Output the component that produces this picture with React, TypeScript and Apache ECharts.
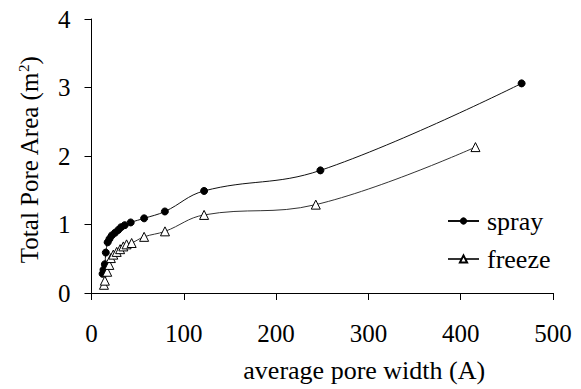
import React, { useEffect, useRef } from "react";
import * as echarts from "echarts";

const sprayX = [12, 13, 14.5, 15.5, 17.5, 19.5, 22, 25.5, 29, 32, 36, 42.5, 57, 79.5, 122, 248, 466];
const sprayY = [0.28, 0.34, 0.42, 0.59, 0.74, 0.79, 0.84, 0.88, 0.92, 0.96, 0.99, 1.03, 1.09, 1.19, 1.49, 1.79, 3.06];
const freezeX = [13.5, 14.5, 17, 19.3, 21, 23.6, 27.3, 31, 34.5, 38, 43.5, 57, 79.6, 122, 243, 416];
const freezeY = [0.12, 0.18, 0.31, 0.41, 0.51, 0.56, 0.6, 0.64, 0.68, 0.71, 0.73, 0.82, 0.9, 1.14, 1.29, 2.13];
const xTicks = [0, 100, 200, 300, 400, 500];
const yTicks = [0, 1, 2, 3, 4];

const FONT = "Liberation Serif";

export default function App() {
  const ref = useRef<HTMLDivElement>(null);
  useEffect(() => {
    if (!ref.current) return;
    const chart = echarts.init(ref.current, undefined, { renderer: "svg" });
    const spray = sprayX.map((x, i) => [x, sprayY[i]]);
    const freeze = freezeX.map((x, i) => [x, freezeY[i]]);
    chart.setOption({
      animation: false,
      backgroundColor: "#fff",
      textStyle: { fontFamily: FONT, color: "#000" },
      grid: { left: 91.5, right: 28, top: 19, bottom: 96, containLabel: false },
      legend: {
        orient: "vertical",
        left: 442,
        top: 203,
        itemWidth: 31,
        itemHeight: 9,
        itemGap: 12,
        textStyle: { fontFamily: FONT, fontSize: 26, color: "#000", padding: [0, 0, 0, 3] },
        data: ["spray", "freeze"],
      },
      xAxis: {
        type: "value",
        min: xTicks[0],
        max: xTicks[xTicks.length - 1],
        interval: 100,
        name: "average pore width (A)",
        nameLocation: "middle",
        nameGap: 64,
        nameTextStyle: { fontFamily: FONT, fontSize: 26, color: "#000", padding: [0, 0, 0, 84] },
        axisLine: { show: true, lineStyle: { color: "#000", width: 1 } },
        axisTick: { show: true, length: 7, lineStyle: { color: "#000" } },
        axisLabel: { fontFamily: FONT, fontSize: 25, color: "#000", margin: 28 },
        splitLine: { show: false },
      },
      yAxis: {
        type: "value",
        min: yTicks[0],
        max: yTicks[yTicks.length - 1],
        interval: 1,
        name: "Total Pore Area (m{sup|2})",
        nameLocation: "middle",
        nameGap: 50,
        nameRotate: 90,
        nameTextStyle: {
          fontFamily: FONT,
          fontSize: 25,
          color: "#000",
          padding: [0, 8, 0, 0],
          rich: { sup: { fontFamily: FONT, fontSize: 15, color: "#000", verticalAlign: "top", padding: [0, 0, 9, 0] } },
        },
        axisLine: { show: true, lineStyle: { color: "#000", width: 1 } },
        axisTick: { show: true, length: 7, lineStyle: { color: "#000" } },
        axisLabel: { fontFamily: FONT, fontSize: 25, color: "#000", margin: 21 },
        splitLine: { show: false },
      },
      series: [
        {
          name: "spray",
          type: "line",
          data: spray,
          smooth: 0.4,
          symbol: "circle",
          symbolSize: 7,
          lineStyle: { color: "#111", width: 1 },
          itemStyle: { color: "#000", borderColor: "#000" },
        },
        {
          name: "freeze",
          type: "line",
          data: freeze,
          smooth: 0.4,
          symbol: "triangle",
          symbolSize: 9,
          lineStyle: { color: "#333", width: 1 },
          itemStyle: { color: "#fff", borderColor: "#000", borderWidth: 1 },
        },
      ],
    });
    return () => chart.dispose();
  }, []);
  return (
    <div
      ref={ref}
      style={{ position: "absolute", left: 0, top: 0, width: 581, height: 389 }}
    />
  );
}
